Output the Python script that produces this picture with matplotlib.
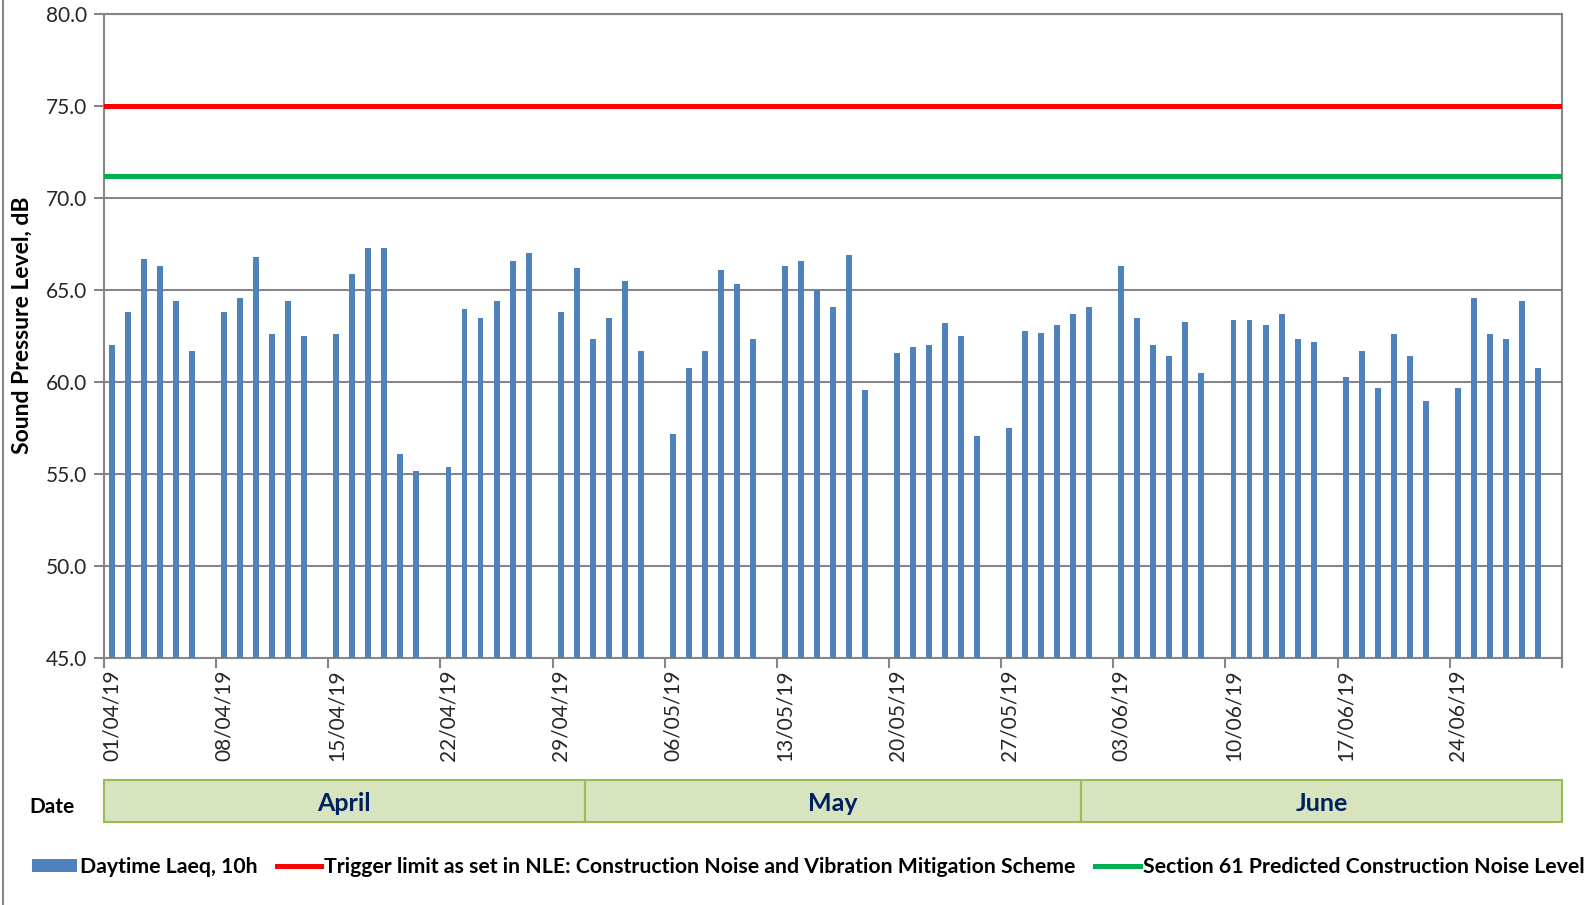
import numpy as np
import pandas as pd
import matplotlib
matplotlib.use("Agg")
import matplotlib.pyplot as plt
import matplotlib.transforms as mtransforms
from matplotlib.patches import Rectangle, Patch
from matplotlib.lines import Line2D

plt.rcParams['font.family'] = ['Lato', 'DejaVu Sans']

nan = np.nan

# ===== data (daytime Laeq,10h per day, Sundays no measurement) =====
april = [62.0, 63.8, 66.7, 66.3, 64.4, 61.7, nan,
         63.8, 64.6, 66.8, 62.6, 64.4, 62.5, nan,
         62.6, 65.9, 67.3, 67.3, 56.1, 55.2, nan,
         55.4, 64.0, 63.5, 64.4, 66.6, 67.0, nan,
         63.8, 66.2]
may = [62.35, 63.5, 65.5, 61.7, nan,
       57.2, 60.8, 61.7, 66.1, 65.35, 62.35, nan,
       66.3, 66.6, 65.0, 64.1, 66.9, 59.6, nan,
       61.6, 61.9, 62.0, 63.2, 62.5, 57.1, nan,
       57.5, 62.8, 62.65, 63.1, 63.7]
june = [64.1, nan,
        66.3, 63.5, 62.0, 61.4, 63.25, 60.5, nan,
        63.4, 63.4, 63.1, 63.7, 62.35, 62.2, nan,
        60.3, 61.7, 59.7, 62.6, 61.4, 59.0, nan,
        59.7, 64.6, 62.6, 62.35, 64.4, 60.8, nan]
months = ["April", "May", "June"]

trigger_limit = 75.0
section61_level = 71.2

dates = pd.date_range("2019-04-01", "2019-06-30", freq="D")
laeq = np.array(april + may + june)

# ===== figure =====
fig = plt.figure(figsize=(15.93, 9.05), dpi=100)
ax = fig.add_axes([0.0653, 0.2726, 0.9152, 0.7117])

grey = "#868686"
x = np.arange(len(dates))
ax.bar(x, laeq, width=0.37, color="#4F81BD", zorder=3)
ax.axhline(trigger_limit, color="#FF0000", lw=3.6, zorder=4)
ax.axhline(section61_level, color="#00B050", lw=3.6, zorder=4)

ax.set_ylim(45, 80)
ax.set_yticks(np.arange(45, 80.1, 5))
ax.set_yticklabels([f"{v:.1f}" for v in np.arange(45, 80.1, 5)])
ax.yaxis.grid(True, color=grey, lw=1.5, zorder=0)
ax.set_axisbelow(True)
for s in ax.spines.values():
    s.set_color(grey)
    s.set_linewidth(1.5)

# ticks at day boundaries, labels centred on the day
ax.set_xlim(-0.5, len(dates) - 0.5)
ax.set_xticks(list(np.arange(-0.5, len(dates), 7)) + [len(dates) - 0.5])
ax.set_xticklabels([])
ax.set_xticks(x[::7], minor=True)
ax.set_xticklabels(dates[::7].strftime("%d/%m/%y"), minor=True, rotation=90,
                   fontsize=15, color="#262626")
ax.tick_params(axis="x", which="major", length=7, width=1.5, color=grey)
ax.tick_params(axis="x", which="minor", length=0, pad=8)
ax.tick_params(axis="y", length=7, width=1.5, color=grey, labelsize=15,
               labelcolor="#262626", pad=5)

ax.set_ylabel("Sound Pressure Level, dB", fontsize=16.5, fontweight="bold")
ax.yaxis.set_label_coords(-0.049, 0.517)

# month band under the date axis
trans = mtransforms.blended_transform_factory(ax.transData, ax.transAxes)
for i, m in enumerate(months):
    idx = np.where(dates.month == dates.month.unique()[i])[0]
    x0, x1 = idx[0] - 0.5, idx[-1] + 0.5
    ax.add_patch(Rectangle((x0, -0.254), x1 - x0, 0.065, transform=trans,
                           facecolor="#D7E4BD", edgecolor="#9BBB59", lw=1.5,
                           clip_on=False))
    ax.text((x0 + x1) / 2, -0.226, m, transform=trans, ha="center", va="center",
            fontsize=18, fontweight="bold", color="#002060")
fig.text(52 / 1593, 1 - 807 / 905, "Date", ha="center", va="center",
         fontsize=15, fontweight="bold")

# legend
handles = [Patch(facecolor="#4F81BD"),
           Line2D([], [], color="#FF0000", lw=3.6),
           Line2D([], [], color="#00B050", lw=3.6)]
labels = ["Daytime Laeq, 10h",
          "Trigger limit as set in NLE: Construction Noise and Vibration Mitigation Scheme",
          "Section 61 Predicted Construction Noise Level"]
fig.legend(handles, labels, loc="center left", bbox_to_anchor=(13 / 1593, 1 - 867 / 905),
           ncol=3, frameon=False, handlelength=2.1, handleheight=0.5,
           handletextpad=0.15, columnspacing=0.9,
           prop={"size": 15.3, "weight": "bold"})

# chart border on the left edge
fig.add_artist(Line2D([3 / 1593, 3 / 1593], [0, 1], color=grey, lw=1.5,
                      transform=fig.transFigure))

fig.savefig("out.png", dpi=100)
